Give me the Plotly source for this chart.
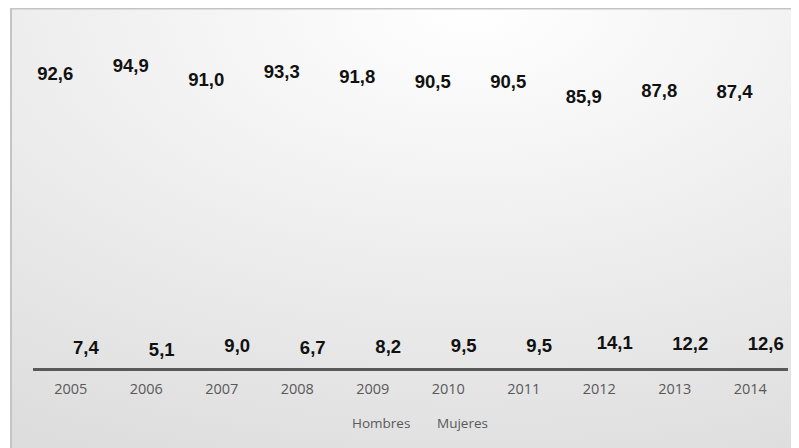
import base64
import plotly.graph_objects as go

years = ["2005", "2006", "2007", "2008", "2009", "2010", "2011", "2012", "2013", "2014"]
hombres = [92.6, 94.9, 91.0, 93.3, 91.8, 90.5, 90.5, 85.9, 87.8, 87.4]
mujeres = [7.4, 5.1, 9.0, 6.7, 8.2, 9.5, 9.5, 14.1, 12.2, 12.6]
series_names = ["Hombres", "Mujeres"]


def fmt(v):
    return f"{v:.1f}".replace(".", ",")


# page body has an 8px margin, so the figure is sized to the visible area
W, H = 791, 440

svg = (
    '<svg xmlns="http://www.w3.org/2000/svg" width="800" height="453" '
    'viewBox="0 0 800 453" preserveAspectRatio="none">'
    '<defs><radialGradient id="g" cx="0.575" cy="0.0" r="1.25" fx="0.575" fy="0.0">'
    '<stop offset="0" stop-color="#ffffff"/>'
    '<stop offset="1" stop-color="#d8d8d8"/>'
    '</radialGradient></defs>'
    '<rect x="0" y="0" width="800" height="453" fill="url(#g)"/>'
    '</svg>'
)
bg_src = "data:image/svg+xml;base64," + base64.b64encode(svg.encode()).decode()

label_font = dict(family="Liberation Sans, Arial, sans-serif", size=18.5, color="#111111", weight="bold")

fig = go.Figure()
fig.add_trace(go.Bar(
    x=years, y=hombres, name=series_names[0], yaxis="y", offsetgroup="h",
    marker=dict(color="rgba(0,0,0,0)", line=dict(width=0)),
    text=[fmt(v) for v in hombres], textposition="outside",
    outsidetextfont=label_font, textfont=label_font,
    cliponaxis=False, constraintext="none", hoverinfo="skip",
    legendwidth=40,
))
fig.add_trace(go.Bar(
    x=years, y=mujeres, name=series_names[1], yaxis="y2", offsetgroup="m",
    marker=dict(color="rgba(0,0,0,0)", line=dict(width=0)),
    text=[fmt(v) for v in mujeres], textposition="outside",
    outsidetextfont=label_font, textfont=label_font,
    cliponaxis=False, constraintext="none", hoverinfo="skip",
    legendwidth=80,
))

x0, x1 = 25 / W, 780 / W
ybot, ytop = (H - 360) / H, (H - 12) / H

fig.update_layout(
    width=W, height=H,
    margin=dict(l=0, r=0, t=0, b=0),
    paper_bgcolor="#ffffff",
    plot_bgcolor="rgba(0,0,0,0)",
    barmode="group", bargap=0.18, bargroupgap=0.0,
    images=[dict(source=bg_src, xref="paper", yref="paper", x=2 / W, y=1.0,
                 sizex=800 / W, sizey=453 / H, xanchor="left", yanchor="top",
                 sizing="stretch", layer="below")],
    shapes=[dict(type="rect", xref="paper", yref="paper",
                 x0=3 / W, x1=1.2, y0=-0.2, y1=1 - 0.5 / H,
                 line=dict(color="#c4c4c4", width=2), fillcolor="rgba(0,0,0,0)", layer="below")],
    xaxis=dict(domain=[x0, x1], showline=True, linecolor="#595959", linewidth=3,
               showgrid=False, zeroline=False, ticks="", ticklabelstandoff=6,
               tickfont=dict(family="Open Sans, sans-serif", size=14.5, color="#595959")),
    yaxis=dict(domain=[ybot, ytop], range=[11.0, 112.2], visible=False, showgrid=False),
    yaxis2=dict(domain=[ybot, ytop], range=[-1.9, 444], overlaying="y", visible=False, showgrid=False),
    showlegend=True,
    legend=dict(orientation="h", x=304 / W, xanchor="left", y=(H - 415) / H, yanchor="middle",
                font=dict(family="Open Sans, sans-serif", size=13.5, color="#595959"),
                bgcolor="rgba(0,0,0,0)", itemwidth=30, entrywidthmode="pixels"),
    font=dict(family="Open Sans, sans-serif"),
)

fig.write_html("out.html")
